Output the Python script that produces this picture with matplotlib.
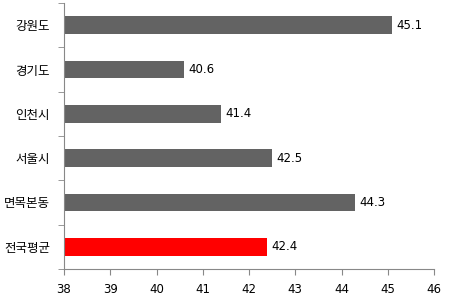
import matplotlib.pyplot as plt
from matplotlib.ticker import FixedLocator, NullFormatter

plt.rcParams['font.family'] = ['Noto Sans CJK KR', 'DejaVu Sans']

regions = ['강원도', '경기도', '인천시', '서울시', '면목본동', '전국평균']
values = [45.1, 40.6, 41.4, 42.5, 44.3, 42.4]
colors = ['#636363'] * 5 + ['#ff0000']

fig = plt.figure(figsize=(4.52, 2.97), dpi=100)
ax = fig.add_axes([64 / 452, 1 - 269 / 297, 370 / 452, 266 / 297])

ypos = list(range(len(regions)))
ax.barh(ypos, [v - 38 for v in values], left=38, height=0.4, color=colors)
for y, v in zip(ypos, values):
    ax.text(v + 0.09, y, f'{v}', va='center', ha='left', fontsize=8.5,
            family='DejaVu Sans')

ax.set_xlim(38, 46)
ax.set_ylim(len(regions) - 0.5, -0.5)
ax.set_xticks(range(38, 47))
ax.tick_params(axis='x', labelsize=8.5, length=4, color='#888888', pad=6)
for lab in ax.get_xticklabels():
    lab.set_family('DejaVu Sans')

ax.set_yticks(ypos)
ax.set_yticklabels(regions, fontsize=9)
ax.tick_params(axis='y', which='major', length=0, pad=10)
ax.yaxis.set_minor_locator(FixedLocator([i - 0.5 for i in range(len(regions) + 1)]))
ax.yaxis.set_minor_formatter(NullFormatter())
ax.tick_params(axis='y', which='minor', length=4, color='#888888')

for s in ['top', 'right']:
    ax.spines[s].set_visible(False)
for s in ['left', 'bottom']:
    ax.spines[s].set_color('#888888')

fig.savefig('out.png', dpi=100)
